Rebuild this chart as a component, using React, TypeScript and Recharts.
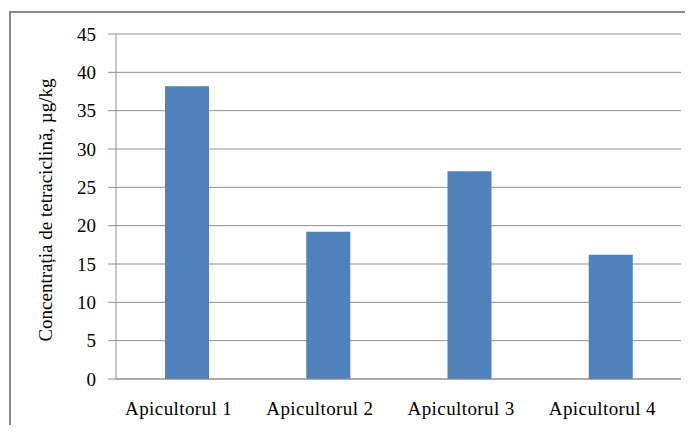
import React from "react";
import { BarChart, Bar, XAxis, YAxis, CartesianGrid } from "recharts";

// Tetracycline concentration per beekeeper (µg/kg)
const categories = ["Apicultorul 1", "Apicultorul 2", "Apicultorul 3", "Apicultorul 4"];
const concentration = [38.2, 19.2, 27.1, 16.2];
const yTicks = [0, 5, 10, 15, 20, 25, 30, 35, 40, 45];
const bandEdges = [0, 1, 2, 3, 4];

const data = categories.map((name, i) => ({ name, value: concentration[i] }));

const FONT = "Liberation Serif, DejaVu Serif, serif";
const GRID = "#8f8f8f";

const YLabel = () => (
  <text
    x={52}
    y={210}
    transform="rotate(-90 52 210)"
    textAnchor="middle"
    style={{ fontFamily: FONT, fontSize: 19 }}
    fill="#000"
  >
    Concentrația de tetraciclină, µg/kg
  </text>
);

export default function App() {
  return (
    <div
      style={{
        position: "relative",
        margin: -8,
        width: 693,
        height: 433,
        overflow: "hidden",
        background: "#fff",
        fontFamily: FONT,
      }}
    >
      <div
        style={{
          position: "absolute",
          left: 9,
          top: 11,
          width: 700,
          height: 419,
          borderTop: `2px solid #8a8a8a`,
          borderLeft: `2px solid #8a8a8a`,
          boxSizing: "border-box",
        }}
      />
      <div style={{ position: "absolute", left: 0, top: 0 }}>
        <BarChart
          width={693}
          height={433}
          data={data}
          margin={{ top: 34, right: 12, left: 0, bottom: 0 }}
          barSize={44}
          style={{ fontFamily: FONT }}
        >
          <CartesianGrid horizontal vertical={false} stroke={GRID} />
          <XAxis
            xAxisId="edges"
            type="number"
            domain={[0, 4]}
            ticks={bandEdges}
            height={0}
            axisLine={false}
            tick={false}
            tickSize={6}
            tickLine={{ stroke: GRID }}
          />
          <XAxis
            dataKey="name"
            height={54}
            axisLine={{ stroke: GRID }}
            tickLine={false}
            tickSize={0}
            tickMargin={23}
            tick={{ style: { fontFamily: FONT }, fontSize: 19, fill: "#000", dx: -8, letterSpacing: 0.4 }}
            interval={0}
          />
          <YAxis
            width={116}
            domain={[0, 45]}
            ticks={yTicks}
            interval={0}
            axisLine={{ stroke: GRID }}
            tickLine={{ stroke: GRID }}
            tickSize={8}
            tickMargin={12}
            tick={{ style: { fontFamily: FONT }, fontSize: 19, fill: "#000" }}
            label={<YLabel />}
          />
          <Bar dataKey="value" fill="#4F81BD" isAnimationActive={false} />
        </BarChart>
      </div>
    </div>
  );
}
